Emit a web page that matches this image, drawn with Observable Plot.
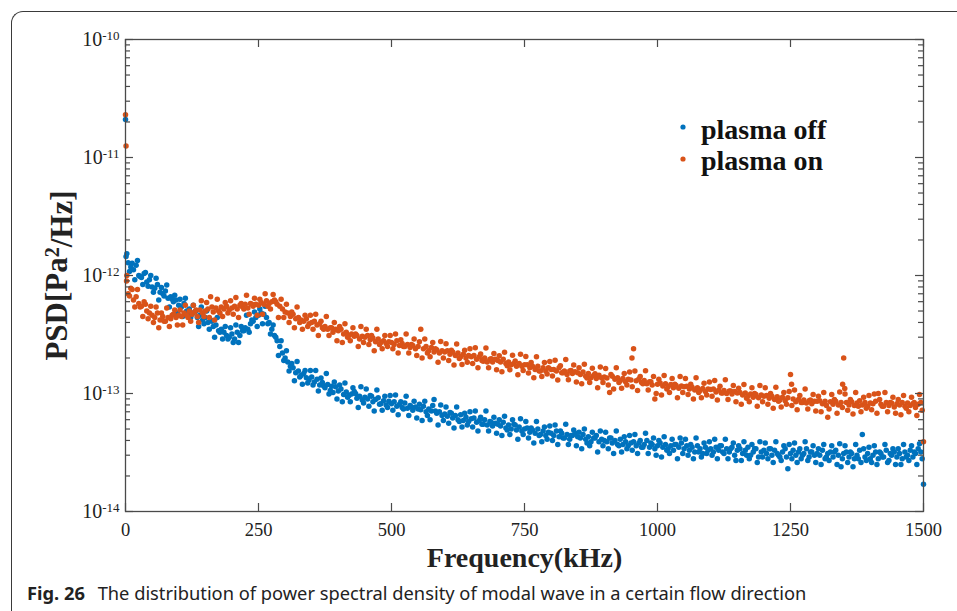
<!DOCTYPE html>
<html><head><meta charset="utf-8">
<script src="https://cdn.jsdelivr.net/npm/d3@7"></script>
<script src="https://cdn.jsdelivr.net/npm/@observablehq/plot@0.6"></script>
<style>
body{margin:0;background:#fff;width:957px;height:611px;overflow:hidden;position:relative}
#box{position:absolute;left:11px;top:11px;width:1000px;height:700px;border-top:1.5px solid #3a3a3a;border-left:1.5px solid #3a3a3a;border-top-left-radius:12px}
#chart{position:absolute;left:0;top:0}
#cap{position:absolute;left:27px;top:584px;font:18.3px "Noto Sans",sans-serif;line-height:18px;color:#222;white-space:nowrap}
#cap b{margin-right:8px}
</style></head>
<body>
<div id="box"></div>
<div id="chart"></div>
<div id="cap"><b>Fig. 26</b> The distribution of power spectral density of modal wave in a certain flow direction</div>
<script>
// Frequency grid (kHz) step; PSD values are in units of 1e-14 Pa^2/Hz
const freqStepKHz = 5;      // main samples at 0,5,...,1500 kHz
const midOffsetKHz = 2.5;   // second samples at 2.5,7.5,...,1497.5 kHz
const psdUnit = 1e-14;
const seriesNames = ["plasma off", "plasma on"];
const seriesColors = ["#0072BD", "#D95319"];

const plasmaOff = [2100,
128,118,112,122,100,96,104,88,92,80,
78,84,72,70,74,64,66,60,62,56,
54,58,50,52,47,49,44,46,42,44,
40,42,37,38,34,35,33,31,30,32,
29,33,31,34,36,35,39,41,44,46,
48,47,44,40,35,31,28,25,22,20,
18.5,17,16.5,15,15.5,14.2,14.8,13.6,13,13.8,
12.5,13.2,11.8,12.4,11.2,11.9,10.6,10.2,11.4,10.5,
10.9,9.8,10.3,9.6,9.9,10.4,9.1,9.5,8.8,9.3,
9.0,9.6,8.5,8.9,9.2,8.2,8.7,8.0,8.6,8.2,
8.5,7.8,8.1,7.6,8.3,7.5,7.9,7.2,7.7,7.4,
7.3,7.8,7.0,7.4,7.1,8.9,6.8,7.0,6.5,6.7,
6.4,6.9,6.2,6.5,6.0,6.6,5.9,6.3,5.8,6.1,
6.2,5.7,5.9,5.5,6.0,5.4,5.8,5.3,5.6,5.5,
5.3,5.7,5.1,5.4,5.0,5.5,4.9,5.2,4.8,5.0,
5.1,4.7,4.9,4.6,5.0,4.5,4.8,4.4,4.7,4.6,
4.4,4.8,4.3,4.6,4.2,4.5,4.1,4.4,4.6,4.3,
4.2,4.5,4.1,4.3,3.9,4.2,4.4,3.9,4.1,4.0,
3.9,4.2,3.8,4.0,3.7,4.1,3.7,3.9,3.6,3.8,
3.9,3.6,3.8,3.5,3.7,4.0,3.5,3.7,3.4,3.6,
3.8,3.5,3.7,3.4,3.6,3.3,3.7,3.5,3.8,3.4,
3.6,3.3,3.5,3.2,3.6,3.4,3.1,3.5,3.3,3.4,
3.2,3.5,3.3,3.6,3.1,3.4,3.2,3.5,3.0,3.3,
3.4,3.1,3.3,3.5,3.0,3.2,3.4,2.9,3.2,3.3,
3.1,3.4,3.0,3.3,3.1,2.9,3.2,3.4,2.3,3.1,
3.3,3.0,3.2,2.8,3.1,3.4,2.9,3.2,3.0,3.1,
3.0,3.3,2.8,3.1,3.2,2.9,3.3,3.0,2.4,3.1,
3.2,2.9,3.1,2.8,3.0,3.3,4.5,2.9,3.1,2.8,
3.0,3.2,2.8,3.1,2.9,3.3,2.7,3.0,3.2,2.9,
3.1,2.8,3.2,3.0,3.3,2.9,3.1,3.4,3.2,1.7];

const plasmaOffMid = [
153,108,127,92,134,98,84,106,81,100,
72,95,62,79,67,83,54,63,68,48,
63,45,64,48,44,56,50,37,54,39,
50,35,41,30,44,33,29,37,29,36,
27,38,27,37,34,46,33,42,49,37,
52,39,55,39,32,38,30,21,28,19,
23,15.5,18,12.8,18.7,13.8,12,15.7,12.3,15.7,
11.8,15.7,10.5,13.5,11.6,14.8,9.9,11.5,12.5,9.0,
11.8,8.5,12.3,9.3,8.5,11.2,10,7.6,11.4,8.3,
10.9,7.8,9.5,7.1,10.7,8.1,7.2,9.5,7.6,9.6,
7.2,9.7,6.6,8.5,7.4,9.5,6.5,7.7,8.6,6.2,
8.1,5.9,8.6,6.5,6.0,7.9,7.1,5.4,8.0,5.9,
7.7,5.6,6.8,5.1,7.7,5.8,5.2,6.8,5.4,7.0,
5.2,7.1,4.8,6.3,5.5,7.1,4.8,5.7,6.3,4.6,
6.0,4.4,6.4,4.9,4.5,6.0,5.4,4.1,6.1,4.5,
5.8,4.2,5.1,3.8,5.8,4.4,3.9,5.2,4.1,5.3,
4.0,5.4,3.7,4.8,4.2,5.5,3.7,4.4,4.9,3.6,
4.7,3.4,5.0,3.8,3.6,4.7,4.2,3.2,4.8,3.6,
4.7,3.4,4.2,3.1,4.8,3.6,3.2,4.3,3.4,4.4,
3.3,4.5,3.1,4.0,3.5,4.6,3.1,3.8,4.2,3.0,
4.0,2.9,4.3,3.3,3.1,4.1,3.7,2.8,4.2,3.1,
4.1,3.0,3.7,2.8,4.2,3.2,2.9,3.8,3.1,3.9,
3.0,4.1,2.8,3.6,3.2,4.1,2.8,3.4,3.8,2.7,
3.6,2.7,3.9,3.0,2.8,3.7,3.4,2.6,3.9,2.9,
3.8,2.8,3.4,2.6,3.9,3.0,2.7,3.6,2.9,3.7,
2.8,3.8,2.6,3.4,3.0,3.9,2.7,3.2,3.6,2.6,
3.4,2.5,3.7,2.9,2.7,3.6,3.2,2.5,3.75,2.8,
3.6,2.6,3.2,2.4,3.7,2.8,2.6,3.4,2.7,3.5,
2.6,3.6,2.5,3.2,2.9,3.7,2.6,3.1,3.4,2.5,
3.4,2.5,3.7,2.9,2.7,3.6,3.2,2.5,3.75,2.8];

const plasmaOn = [2300,
70,78,62,66,58,55,60,50,48,46,
44,48,42,45,41,44,43,47,44,46,
45,48,46,50,47,49,45,51,48,50,
52,66,49,53,50,54,52,55,51,53,
55,52,56,54,57,53,58,55,57,56,
59,57,61,58,60,62,57,55,52,49,
48,45,47,43,44,42,41,43,39,40,
41,38,39,36,37,35,36,33,35,34,
35,32,33,31,32,30.5,31,29,30.5,30,
31,28.5,29.5,27.5,29,27,28,26.5,27.5,27,
26,28,25.5,26.5,25,26,24.5,25.5,24,25,
35,24,25,23,24.5,22.5,23.5,22,23,22.5,
23,21.5,22.5,21,22,20.5,21.5,20,21,20.5,
21,19.5,20.5,19,20,18.5,19.5,18.5,19.5,19,
18.5,19.5,18,18.5,17.5,18,17,18,17,17.5,
17.5,16.5,17,16,17,15.5,16.5,15.5,16.5,16,
16,15.5,16.5,15,15.5,14.5,15.5,14.8,15.3,15,
14.5,15.2,14,14.8,13.6,14.2,13.4,14.3,13.5,13.8,
13.5,10.2,14,13.2,13.6,12.8,13.4,12.6,13.2,13,
24,12.8,13.3,12.4,12.9,12.1,12.6,11.8,9.0,12,
12.3,11.6,12.1,11.4,11.9,11.2,11.7,11.1,11.6,11.4,
11.5,10.9,11.3,10.7,11.2,10.6,11,10.4,10.9,10.8,
10.9,10.3,10.7,10.1,10.6,10,10.5,9.9,10.4,10.1,
10.2,9.7,10.1,9.5,9.9,9.3,9.8,9.2,9.7,9.5,
9.6,9.1,9.5,8.9,9.4,8.8,9.3,8.7,9.2,14.5,
9.0,8.5,8.9,8.4,8.8,8.3,8.7,8.2,8.6,8.6,
8.7,8.2,8.6,6.3,8.5,8.1,8.6,8.0,8.4,20,
8.4,8.0,8.5,7.9,8.3,8.7,8.0,8.4,7.8,8.3,
8.2,8.6,10,8.1,7.8,8.4,7.9,8.3,7.7,8.2,
8.0,8.4,7.8,8.3,7.9,8.2,7.6,8.1,8.4,3.9];

const plasmaOnMid = [
100,67,76,54,76,54,45,57,43,55,
40,54,36,48,41,53,37,46,51,38,
51,38,56,44,41,56,51,40,61,45,
59,44,54,42,63,48,45,59,48,61,
47,65,44,58,52,68,47,57,64,46,
63,47,70,55,52,69,60,44,63,44,
57,40,49,36,54,40,35,46,37,46,
35,47,31,41,35,45,31,36,40,28,
37,27,39,30,28,36,32,25,37,27,
35,26,31,23,35,26,24,31,25,31,
24,32,22,28.5,25,32,22,26,29,21,
27.5,20,29,22,20.5,27,24,18.4,27.6,20,
26.4,19,23.3,17.4,26.3,19.8,17.6,23.2,18.4,23.9,
18,24.4,16.5,21.6,18.8,24.3,16.5,19.7,21.8,15.9,
20.9,15.3,22.4,17.2,15.9,21.1,18.9,14.4,21.5,15.7,
20.6,14.9,18.3,13.6,20.5,15.5,13.9,18.3,14.6,18.7,
14.1,19.1,13,17.2,15,19.4,13.1,15.7,17.4,12.5,
16.5,12.1,17.7,13.5,12.4,16.4,14.7,11.2,16.8,12.4,
16.3,11.8,14.5,10.9,16.5,12.4,11.1,14.8,11.8,15.2,
11.4,15.5,10.6,13.9,12.1,15.6,10.7,12.6,13.9,10,
13.2,9.7,14.2,10.9,10.2,13.4,12,9.2,13.9,10.2,
13.4,9.8,12,9,13.6,10.2,9.2,12.2,9.7,12.5,
9.5,12.9,8.8,11.5,10.1,13.1,8.9,10.5,11.7,8.5,
11.1,8.1,11.9,9.1,8.5,11.2,10,7.8,11.7,8.5,
11.2,8.1,10,7.5,11.3,8.6,7.7,10.2,8.1,10.4,
7.9,10.7,7.3,9.6,8.4,10.9,7.4,8.8,9.8,7.1,
9.5,7,10.2,7.9,7.4,9.8,8.9,6.8,10.3,7.6,
9.9,7.2,8.9,6.7,10.2,7.8,7,9.3,7.5,9.6,
7.3,9.9,6.8,8.9,7.8,10.2,7,8.4,9.3,6.8,
8.9,6.6,9.6,7.5,7,9.3,8.4,6.5,9.8,7.2];

// extra (off-grid) points
const offExtraFreq = [1];
const offExtraVal  = [145];
const onExtraFreq  = [1, 2, 952, 1252, 1348, 1352];
const onExtraVal   = [1250, 90, 20, 12, 12, 11];

const xTickValues = [0, 250, 500, 750, 1000, 1250, 1500];
const yTickValues = [1e-14, 1e-13, 1e-12, 1e-11, 1e-10];
const yTickLabels = ["10^-14", "10^-13", "10^-12", "10^-11", "10^-10"];
const yMinorMult = [2, 3, 4, 5, 6, 7, 8, 9];

const xLabel = "Frequency(kHz)";
const yLabel = "PSD[Pa^2/Hz]";

function rowsOf(vals, mids, exF, exV) {
  const r = vals.map((v, i) => ({f: i * freqStepKHz, psd: v * psdUnit}));
  mids.forEach((v, i) => r.push({f: midOffsetKHz + i * freqStepKHz, psd: v * psdUnit}));
  exF.forEach((f, i) => r.push({f, psd: exV[i] * psdUnit}));
  return r.sort((a, b) => a.f - b.f);
}
const offRows = rowsOf(plasmaOff, plasmaOffMid, offExtraFreq, offExtraVal);
const onRows = rowsOf(plasmaOn, plasmaOnMid, onExtraFreq, onExtraVal);

const yMinor = [];
yTickValues.slice(0, -1).forEach(d => yMinorMult.forEach(k => yMinor.push(k * d)));

// layout
const W = 957, H = 575, mL = 125, mR = 34, mT = 39, mB = 64;
const frameW = W - mL - mR, frameH = H - mT - mB;
const majorLen = 8, minorLen = 5;

const axisCol = "#4a4a4a";
const serif = "'Liberation Serif','Times New Roman',serif";
const plot = Plot.plot({
  width: W, height: H,
  marginLeft: mL, marginRight: mR, marginTop: mT, marginBottom: mB,
  style: {fontFamily: serif, fontSize: "18px", color: "#222", background: "transparent", overflow: "visible"},
  x: {domain: [0, 1500], label: null},
  y: {type: "log", domain: [1e-14, 1e-10], label: null},
  marks: [
    Plot.dot(offRows, {x: "f", y: "psd", r: 2.75, fill: seriesColors[0], stroke: "none"}),
    Plot.dot(onRows, {x: "f", y: "psd", r: 2.75, fill: seriesColors[1], stroke: "none"}),
    // inward ticks on all four sides
    Plot.ruleX(xTickValues, {x: d => d, insetTop: frameH - majorLen, stroke: axisCol, strokeWidth: 1.2}),
    Plot.ruleX(xTickValues, {x: d => d, insetBottom: frameH - majorLen, stroke: axisCol, strokeWidth: 1.2}),
    Plot.ruleY(yTickValues, {y: d => d, insetRight: frameW - majorLen, stroke: axisCol, strokeWidth: 1.2}),
    Plot.ruleY(yMinor, {y: d => d, insetRight: frameW - minorLen, stroke: axisCol, strokeWidth: 1.2}),
    Plot.ruleY(yTickValues, {y: d => d, insetLeft: frameW - majorLen, stroke: axisCol, strokeWidth: 1.2}),
    Plot.ruleY(yMinor, {y: d => d, insetLeft: frameW - minorLen, stroke: axisCol, strokeWidth: 1.2}),
    Plot.frame({stroke: axisCol, strokeWidth: 1.3}),
    // tick labels
    Plot.axisX({anchor: "bottom", ticks: xTickValues, tickSize: 0, tickPadding: 11, fontSize: 18.5, label: null, tickFormat: d => String(d)}),
    Plot.axisY({anchor: "left", ticks: yTickValues, tickSize: 0, tickPadding: 6, fontSize: 20, label: null, tickFormat: d => yTickLabels[yTickValues.indexOf(d)]}),
    // axis titles
    Plot.text([xLabel], {text: d => d, frameAnchor: "bottom", lineAnchor: "middle", textAnchor: "middle", dy: 47, fontSize: 28, fontWeight: "bold", fill: "#222"}),
    Plot.text([yLabel], {text: d => d, frameAnchor: "left", lineAnchor: "middle", textAnchor: "middle", rotate: -90, dx: -68, fontSize: 31, fontWeight: "bold", fill: "#222"})
  ]
});
document.getElementById("chart").append(plot);

// superscripts
d3.select(plot).selectAll("text").each(function () {
  const t = this.textContent;
  if (!t.includes("^")) return;
  const [a, rest] = t.split("^");
  const sel = d3.select(this);
  sel.text(a);
  if (t.startsWith("PSD")) {
    sel.append("tspan").attr("dy", "-0.42em").attr("font-size", "20px").text(rest.slice(0, 1));
    sel.append("tspan").attr("dy", "0.42em").text(rest.slice(1));
  } else {
    sel.append("tspan").attr("dy", "-0.45em").attr("font-size", "13px").text(rest);
  }
});

// legend
const leg = d3.select(plot).append("g")
  .attr("font-family", serif).attr("font-weight", "bold").attr("font-size", 28).attr("text-anchor", "start");
seriesNames.forEach((n, i) => {
  leg.append("circle").attr("cx", 683).attr("cy", 127 + i * 32).attr("r", 2.6).attr("fill", seriesColors[i]);
  leg.append("text").attr("x", 701).attr("y", 139 + i * 31).attr("fill", "#111").text(n);
});
</script>
</body></html>
